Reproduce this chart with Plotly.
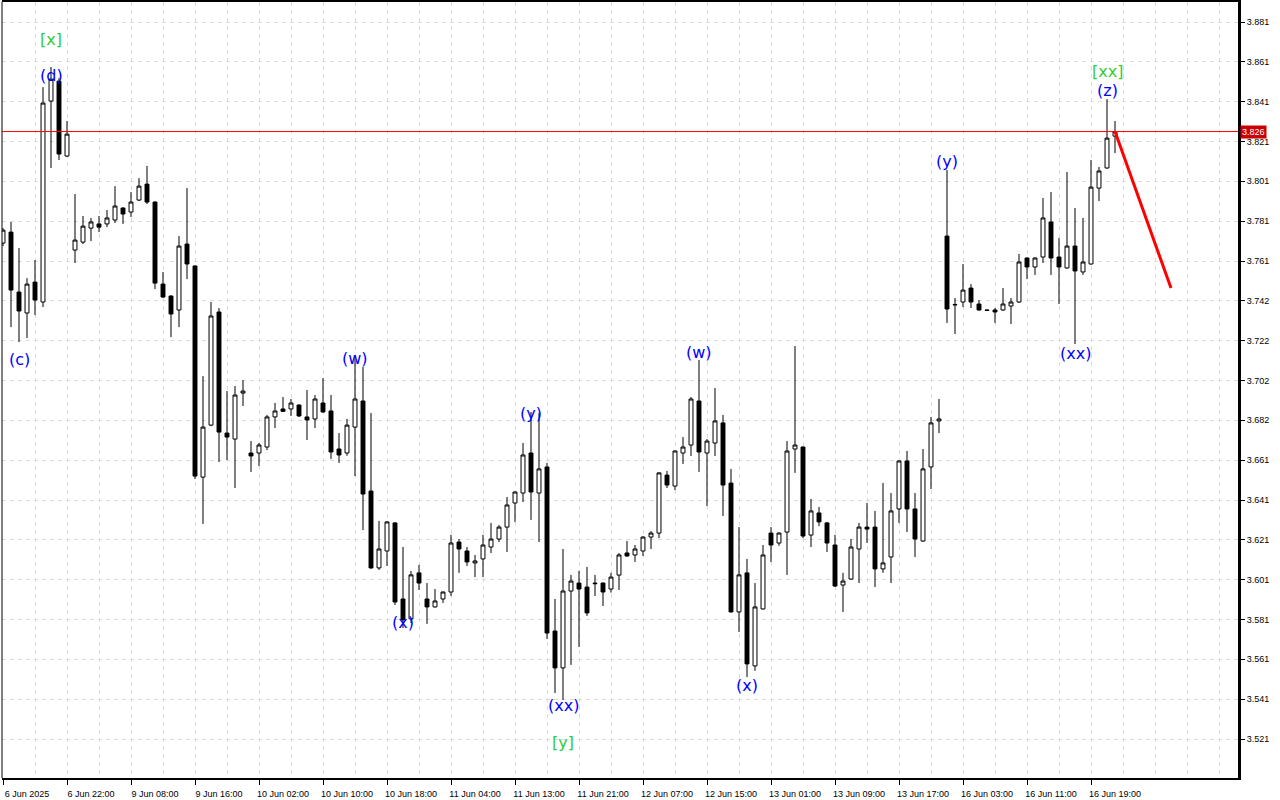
import plotly.graph_objects as go
import numpy as np

# ---- data (hourly candles) ----
opens = [3.7700,3.7755,3.7454,3.7349,3.7504,3.7404,3.8413,3.8513,3.8137,3.7665,
         3.7705,3.7775,3.7796,3.7796,3.7816,3.7876,3.7856,3.7916,3.7996,3.7906,
         3.7494,3.7434,3.7364,3.7695,3.7585,3.6525,3.6786,3.7354,3.6746,3.6716,
         3.6947,3.6646,3.6646,3.6676,3.6827,3.6867,3.6867,3.6887,3.6827,3.6817,
         3.6897,3.6857,3.6666,3.6646,3.6776,3.6907,3.6455,3.6069,3.6154,3.6295,
         3.5913,3.5813,3.6044,3.5913,3.5873,3.5913,3.5948,3.6199,3.6154,3.6094,
         3.6114,3.6174,3.6214,3.6274,3.6395,3.6445,3.6646,3.6445,3.6576,3.5752,
         3.5567,3.5953,3.5993,3.5973,3.5993,3.5993,3.5963,3.6033,3.6144,3.6134,
         3.6154,3.6224,3.6244,3.6535,3.6480,3.6646,3.6686,3.6907,3.6646,3.6696,
         3.6797,3.6495,3.5848,3.6044,3.5577,3.5863,3.6244,3.6194,3.6249,3.6666,
         3.6676,3.6234,3.6345,3.6295,3.6184,3.5983,3.6013,3.6164,3.6274,3.6274,
         3.6064,3.6124,3.6365,3.6606,3.6365,3.6204,3.6576,3.6807,3.7735,3.7392,
         3.7404,3.7474,3.7394,3.7364,3.7364,3.7364,3.7384,3.7404,3.7625,3.7580,
         3.7630,3.7806,3.7630,3.7575,3.7685,3.7555,3.7595,3.7976,3.8077,3.8237]
highs = [3.7775,3.7806,3.7675,3.7524,3.7615,3.8483,3.8584,3.8528,3.8313,3.7946,
         3.7836,3.7826,3.7836,3.7866,3.7986,3.7880,3.7956,3.8026,3.8087,3.7910,
         3.7555,3.7438,3.7735,3.7976,3.7588,3.7032,3.7404,3.7374,3.6957,3.6982,
         3.7012,3.6706,3.6696,3.6837,3.6897,3.6927,3.6917,3.6890,3.6962,3.6937,
         3.7022,3.6937,3.6746,3.6817,3.7128,3.7078,3.6847,3.6305,3.6303,3.6298,
         3.6174,3.6054,3.6084,3.5993,3.5963,3.5950,3.6235,3.6214,3.6174,3.6134,
         3.6235,3.6295,3.6284,3.6425,3.6453,3.6696,3.6852,3.6847,3.6596,3.5913,
         3.6164,3.6034,3.6054,3.6074,3.6034,3.5996,3.6044,3.6144,3.6204,3.6184,
         3.6227,3.6254,3.6549,3.6556,3.6659,3.6726,3.6927,3.7113,3.6716,3.6972,
         3.6837,3.6566,3.6274,3.6114,3.5993,3.6184,3.6274,3.6247,3.6706,3.7183,
         3.6679,3.6415,3.6375,3.6300,3.6235,3.6044,3.6214,3.6295,3.6395,3.6355,
         3.6495,3.6445,3.6609,3.6656,3.6445,3.6666,3.6827,3.6917,3.8067,3.7424,
         3.7595,3.7494,3.7414,3.7366,3.7374,3.7474,3.7424,3.7645,3.7628,3.7628,
         3.7926,3.7956,3.7725,3.8057,3.7876,3.7826,3.8117,3.8082,3.8423,3.8313]
lows = [3.7685,3.7278,3.7203,3.7223,3.7339,3.7379,3.8077,3.8117,3.8132,3.7600,
        3.7695,3.7710,3.7755,3.7780,3.7801,3.7796,3.7831,3.7911,3.7896,3.7469,
        3.7425,3.7228,3.7278,3.7519,3.6515,3.6290,3.6781,3.6601,3.6611,3.6470,
        3.6882,3.6551,3.6581,3.6661,3.6771,3.6852,3.6832,3.6827,3.6711,3.6771,
        3.6848,3.6616,3.6596,3.6632,3.6530,3.6259,3.6064,3.6059,3.6079,3.5883,
        3.5767,3.5793,3.5958,3.5788,3.5870,3.5893,3.5928,3.6044,3.6079,3.6023,
        3.6023,3.6144,3.6199,3.6149,3.6300,3.6400,3.6310,3.6199,3.5712,3.5441,
        3.5406,3.5582,3.5672,3.5828,3.5928,3.5878,3.5945,3.5958,3.6124,3.6099,
        3.6129,3.6164,3.6219,3.6470,3.6460,3.6591,3.6631,3.6551,3.6380,3.6631,
        3.6330,3.5845,3.5747,3.5521,3.5552,3.5860,3.6099,3.6180,3.6034,3.6546,
        3.6219,3.6174,3.6279,3.6149,3.5973,3.5848,3.6010,3.5993,3.6194,3.5973,
        3.6044,3.5993,3.6295,3.6249,3.6124,3.6200,3.6465,3.6746,3.7299,3.7243,
        3.7379,3.7374,3.7360,3.7360,3.7299,3.7360,3.7294,3.7400,3.7519,3.7540,
        3.7600,3.7540,3.7394,3.7572,3.7193,3.7540,3.7592,3.7911,3.8074,3.8152]
closes = [3.7765,3.7464,3.7359,3.7494,3.7414,3.8403,3.8523,3.8147,3.8247,3.7715,
          3.7785,3.7806,3.7780,3.7826,3.7886,3.7846,3.7906,3.7986,3.7906,3.7499,
          3.7429,3.7344,3.7685,3.7595,3.6530,3.6776,3.7334,3.6751,3.6726,3.6937,
          3.6957,3.6631,3.6686,3.6827,3.6857,3.6855,3.6897,3.6832,3.6812,3.6917,
          3.6852,3.6651,3.6636,3.6786,3.6917,3.6440,3.6069,3.6164,3.6300,3.5898,
          3.5808,3.6034,3.5993,3.5873,3.5903,3.5948,3.6194,3.6164,3.6099,3.6104,
          3.6184,3.6214,3.6274,3.6385,3.6450,3.6636,3.6450,3.6566,3.5742,3.5567,
          3.5953,3.6003,3.5963,3.5843,3.5990,3.5948,3.6023,3.6134,3.6129,3.6164,
          3.6224,3.6244,3.6546,3.6485,3.6656,3.6676,3.6917,3.6651,3.6706,3.6807,
          3.6485,3.5848,3.6034,3.5587,3.5873,3.6134,3.6184,3.6244,3.6656,3.6686,
          3.6229,3.6355,3.6300,3.6194,3.5978,3.6003,3.6174,3.6274,3.6264,3.6064,
          3.6094,3.6355,3.6606,3.6365,3.6214,3.6566,3.6797,3.6817,3.7369,3.7390,
          3.7464,3.7404,3.7364,3.7362,3.7354,3.7394,3.7404,3.7605,3.7580,3.7625,
          3.7826,3.7625,3.7580,3.7685,3.7560,3.7605,3.7981,3.8062,3.8227,3.8260]

tick_labels = ["6 Jun 2025", "6 Jun 22:00", "9 Jun 08:00", "9 Jun 16:00", "10 Jun 02:00",
               "10 Jun 10:00", "10 Jun 18:00", "11 Jun 04:00", "11 Jun 13:00", "11 Jun 21:00",
               "12 Jun 07:00", "12 Jun 15:00", "13 Jun 01:00", "13 Jun 09:00", "13 Jun 17:00",
               "16 Jun 03:00", "16 Jun 11:00", "16 Jun 19:00"]
price_labels = ["3.881", "3.861", "3.841", "3.821", "3.801", "3.781", "3.761", "3.742", "3.722",
                "3.702", "3.682", "3.661", "3.641", "3.621", "3.601", "3.581", "3.561", "3.541", "3.521"]

wave_text = ["[x]", "(d)", "(c)", "(w)", "(x)", "(y)", "(xx)", "[y]", "(w)", "(x)", "(y)", "(xx)", "(z)", "[xx]"]
wave_idx = [6, 6, 2, 44, 50, 66, 70, 70, 87, 93, 118, 134, 138, 138]
wave_price = [3.8720, 3.8539, 3.7113, 3.7118, 3.5793, 3.6842, 3.5376, 3.5191, 3.7153, 3.5477,
              3.8112, 3.7148, 3.8464, 3.8559]

last_price = 3.826
forecast_idx = [139, 146]
forecast_price = [3.826, 3.7474]

# ---- figure ----
x = list(range(len(opens)))
fig = go.Figure()
fig.add_trace(go.Candlestick(
    x=x, open=opens, high=highs, low=lows, close=closes,
    increasing=dict(line=dict(color="black", width=1), fillcolor="white"),
    decreasing=dict(line=dict(color="black", width=1), fillcolor="black"),
    whiskerwidth=0, showlegend=False, hoverinfo="skip"))

fig.add_trace(go.Scatter(x=forecast_idx, y=forecast_price, mode="lines",
                         line=dict(color="#ff0000", width=3), showlegend=False, hoverinfo="skip"))

fig.add_shape(type="line", xref="paper", yref="y", x0=0, x1=1, y0=last_price, y1=last_price,
              line=dict(color="#ff0000", width=1), layer="above")

green = "#32cd32"
for t, i, p in zip(wave_text, wave_idx, wave_price):
    col = green if t.startswith("[") else "#0000ff"
    fig.add_annotation(x=i, y=p, text=t, showarrow=False,
                       font=dict(family="DejaVu Sans", size=16, color=col),
                       xanchor="center", yanchor="middle")

fig.add_annotation(xref="paper", x=1, y=last_price, text="3.826", showarrow=False,
                   xanchor="left", yanchor="middle", xshift=2,
                   font=dict(family="Liberation Sans", size=9, color="white"),
                   bgcolor="#cc0000", borderpad=1)

# left border
fig.add_shape(type="line", xref="paper", yref="paper", x0=0, x1=0, y0=0, y1=1,
              line=dict(color="black", width=1))

tickvals_y = list(np.linspace(3.881, 3.521, len(price_labels)))
tickvals_x = [8 * k for k in range(len(tick_labels))]
ppu = 39.8333 / 0.02

fig.update_layout(
    template="none",
    width=1280, height=800,
    margin=dict(l=2, r=42, t=2, b=22, autoexpand=False),
    paper_bgcolor="white", plot_bgcolor="white",
    showlegend=False,
    xaxis=dict(
        range=[-0.125, 154.375], rangeslider=dict(visible=False),
        tickmode="array", tickvals=tickvals_x, ticktext=tick_labels,
        ticks="outside", ticklen=5, tickcolor="black", tickwidth=1,
        ticklabelshift=24, ticklabelstandoff=1,
        tickfont=dict(family="Liberation Sans", size=9, color="black"),
        showgrid=True, gridcolor="#dcdcdc", griddash="4px,4px", gridwidth=1,
        minor=dict(tick0=0, dtick=4, showgrid=True, gridcolor="#dcdcdc",
                   griddash="4px,4px", ticks=""),
        showline=True, linecolor="black", linewidth=2, mirror=True,
        zeroline=False, automargin=False),
    yaxis=dict(
        side="right",
        range=[3.881 - (778 - 22) / ppu, 3.881 + 20 / ppu],
        tickmode="array", tickvals=tickvals_y, ticktext=price_labels,
        ticks="outside", ticklen=4, tickcolor="black", tickwidth=1,
        tickfont=dict(family="Liberation Sans", size=9, color="black"),
        showgrid=True, gridcolor="#dcdcdc", griddash="4px,4px", gridwidth=1,
        showline=True, linecolor="black", linewidth=3,
        zeroline=False, automargin=False),
)

fig.write_html("out.html", config={"displayModeBar": False},
               post_script="document.body.style.margin='0';document.body.style.overflow='hidden';")
